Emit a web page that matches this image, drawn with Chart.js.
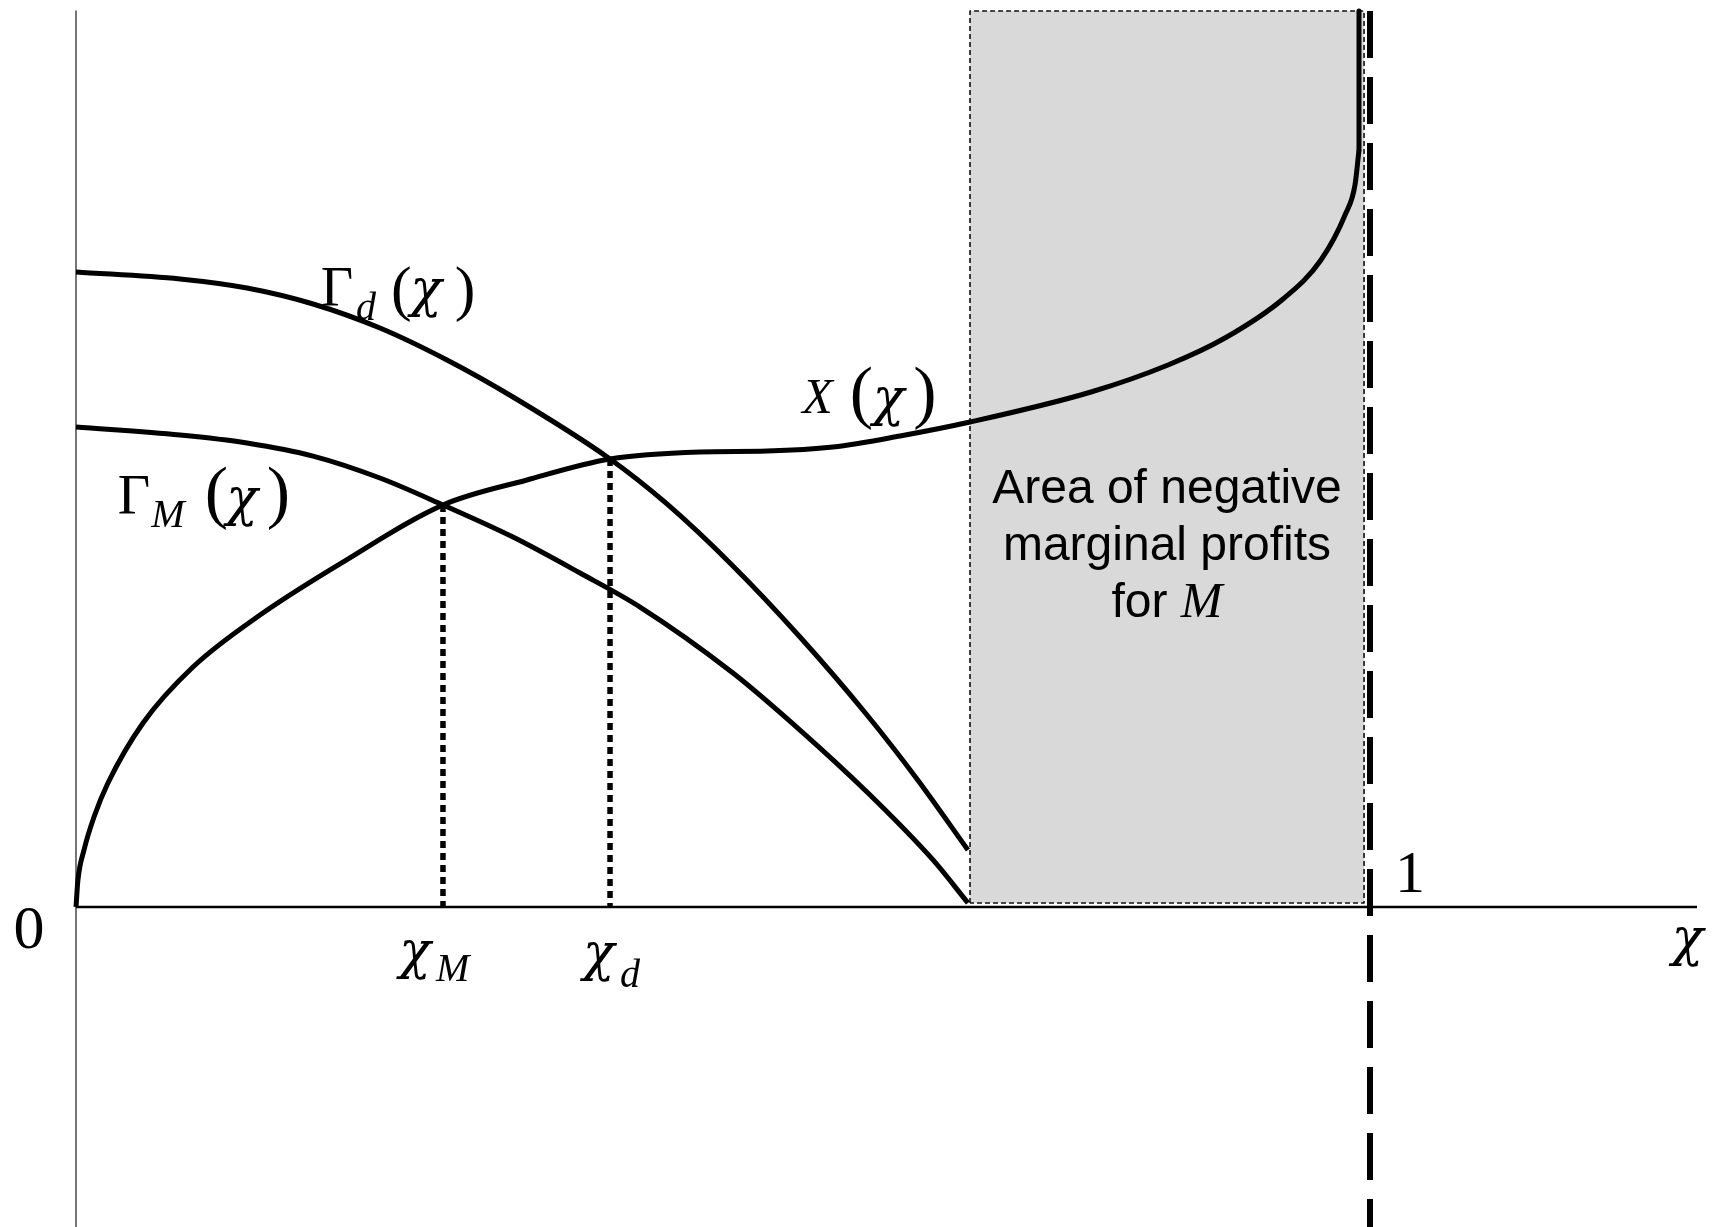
<!DOCTYPE html>
<html>
<head>
<meta charset="utf-8">
<script src="https://cdn.jsdelivr.net/npm/chart.js"></script>
<style>
html,body{margin:0;padding:0;background:#ffffff;overflow:hidden;}
#wrap{width:1727px;height:1227px;position:relative;}
</style>
</head>
<body>
<div id="wrap"><canvas id="c" width="1727" height="1227"></canvas></div>
<script>
// ---------- data (x: chi in [0,1], y: arbitrary value units) ----------
const xCurveX = [0, 0.0015, 0.0062, 0.0139, 0.0247, 0.0518, 0.0904, 0.1422, 0.2063, 0.2836, 0.3485, 0.4127, 0.4822, 0.5340, 0.5850, 0.6368, 0.6909, 0.7844, 0.8439, 0.8879, 0.9328, 0.9621, 0.9807, 0.9884, 0.9915];
const xCurveY = [0, 0.0301, 0.0636, 0.1004, 0.1384, 0.2054, 0.2679, 0.3259, 0.3850, 0.4487, 0.4766, 0.5000, 0.5078, 0.5089, 0.5134, 0.5257, 0.5413, 0.5748, 0.6049, 0.6350, 0.6786, 0.7221, 0.7723, 0.8058, 0.8449];
// X(chi) rises vertically at its right end up to the top of the figure
const xVerticalY = [0.8449, 1.0];

const gammaDX = [0, 0.0804, 0.1321, 0.1832, 0.2349, 0.2867, 0.3377, 0.4127, 0.4567, 0.5077, 0.5595, 0.6113, 0.6499, 0.6893];
const gammaDY = [0.7087, 0.7009, 0.6908, 0.6730, 0.6462, 0.6105, 0.5692, 0.5000, 0.4498, 0.3806, 0.3013, 0.2143, 0.1429, 0.0636];

const gammaMX = [0, 0.0804, 0.1321, 0.1832, 0.2349, 0.2836, 0.3377, 0.3895, 0.4359, 0.5077, 0.5595, 0.6113, 0.6623, 0.6893];
const gammaMY = [0.5357, 0.5268, 0.5179, 0.5033, 0.4788, 0.4487, 0.4129, 0.3728, 0.3348, 0.2612, 0.1975, 0.1283, 0.0525, 0.0045];

// equilibrium cut-offs (chi value, height of the crossing)
const chiM = [0.2836, 0.4487];
const chiD = [0.4127, 0.5000];

// area of negative marginal profits: [xStart, xEnd], [yBottom, yTop]
const areaX = [0.6909, 0.9954];
const areaY = [0.0045, 1.0];

// axis extents
const axisXEnd = 1.2527;
const axisYTop = 1.0;
const upperBound = 1.0;

// view window
const viewX = [-0.05873, 1.27589];
const viewY = [-0.35714, 1.01228];

// text labels (centre x, baseline y in data units)
const SERIF = '"Liberation Serif", "Times New Roman", serif';
const GREEK = '"DejaVu Serif", "Liberation Serif", serif';
const SANS = '"Liberation Sans", Arial, sans-serif';
const CHI = '\u03C7';
const labels = [
  {t:'0', x:-0.0363, y:-0.0458, f:'62px ' + SERIF},
  {t:'1', x:1.0309, y:0.0171, f:'60px ' + SERIF},
  {t:CHI, x:1.2454, y:-0.0536, f:'italic 52px ' + GREEK},
  // chi_M
  {t:CHI, x:0.2620, y:-0.0681, f:'italic 52px ' + GREEK},
  {t:'M', x:0.2910, y:-0.0826, f:'italic 40px ' + SERIF},
  // chi_d
  {t:CHI, x:0.4039, y:-0.0703, f:'italic 52px ' + GREEK},
  {t:'d', x:0.4281, y:-0.0893, f:'italic 40px ' + SERIF},
  // Gamma_d(chi)
  {t:'\u0393', x:0.2017, y:0.6708, f:'56px ' + SERIF},
  {t:'d', x:0.2241, y:0.6551, f:'italic 40px ' + SERIF},
  {t:'(', x:0.2515, y:0.6674, f:'62px ' + SERIF},
  {t:CHI, x:0.2705, y:0.6708, f:'italic 52px ' + GREEK},
  {t:')', x:0.3006, y:0.6674, f:'62px ' + SERIF},
  // Gamma_M(chi)
  {t:'\u0393', x:0.0448, y:0.4386, f:'56px ' + SERIF},
  {t:'M', x:0.0711, y:0.4241, f:'italic 40px ' + SERIF},
  {t:'(', x:0.1086, y:0.4375, f:'70px ' + SERIF},
  {t:CHI, x:0.1283, y:0.4375, f:'italic 52px ' + GREEK},
  {t:')', x:0.1565, y:0.4375, f:'70px ' + SERIF},
  // X(chi)
  {t:'X', x:0.5730, y:0.5513, f:'italic 50px ' + SERIF},
  {t:'(', x:0.6070, y:0.5491, f:'70px ' + SERIF},
  {t:CHI, x:0.6279, y:0.5491, f:'italic 52px ' + GREEK},
  {t:')', x:0.6561, y:0.5491, f:'70px ' + SERIF}
];
const boxText = {cx:0.8431, lines:[
  {y:0.4509, parts:[{t:'Area of negative', f:'48px ' + SANS}]},
  {y:0.3873, parts:[{t:'marginal profits', f:'48px ' + SANS}]},
  {y:0.3237, parts:[{t:'for ', f:'48px ' + SANS}, {t:'M', f:'italic 50px ' + SERIF}]}
]};

// ---------- build datasets ----------
const pts = (xs, ys) => xs.map((v, i) => ({x: v, y: ys[i]}));

const labelPlugin = {
  id: 'labels',
  afterDatasetsDraw(chart) {
    const ctx = chart.ctx, sx = chart.scales.x, sy = chart.scales.y;
    ctx.save();
    ctx.fillStyle = '#000';
    ctx.textBaseline = 'alphabetic';
    ctx.textAlign = 'center';
    labels.forEach(l => {
      ctx.font = l.f;
      ctx.fillText(l.t, sx.getPixelForValue(l.x), sy.getPixelForValue(l.y));
    });
    ctx.textAlign = 'left';
    const cx = sx.getPixelForValue(boxText.cx);
    boxText.lines.forEach(line => {
      let w = 0;
      line.parts.forEach(p => { ctx.font = p.f; w += ctx.measureText(p.t).width; });
      let x = cx - w / 2;
      const y = sy.getPixelForValue(line.y);
      line.parts.forEach(p => { ctx.font = p.f; ctx.fillText(p.t, x, y); x += ctx.measureText(p.t).width; });
    });
    ctx.restore();
  }
};

const base = {showLine: true, pointRadius: 0, pointHoverRadius: 0, fill: false, borderCapStyle: 'butt', borderJoinStyle: 'round', tension: 0};
const curve = {cubicInterpolationMode: 'monotone', borderColor: '#000', borderWidth: 5, order: 2};
const lastX = xCurveX[xCurveX.length - 1];

new Chart(document.getElementById('c'), {
  type: 'scatter',
  data: {
    datasets: [
      Object.assign({}, base, {label:'area', data: pts(areaX, [areaY[1], areaY[1]]), borderWidth: 0,
        borderColor: 'rgba(0,0,0,0)', backgroundColor: '#d9d9d9', fill: {value: areaY[0]}, order: 20}),
      Object.assign({}, base, {label:'areaBorder', data: pts([areaX[0], areaX[0], areaX[1], areaX[1], areaX[0]], [areaY[0], areaY[1], areaY[1], areaY[0], areaY[0]]),
        borderColor: '#111', borderWidth: 1.6, borderDash: [5, 3], order: 15}),
      Object.assign({}, base, {label:'yAxis', data: pts([0, 0], [axisYTop, viewY[0]]), borderColor: '#555', borderWidth: 1.6, order: 12}),
      Object.assign({}, base, {label:'xAxis', data: pts([0, axisXEnd], [0, 0]), borderColor: '#000', borderWidth: 2.6, order: 11}),
      Object.assign({}, base, {label:'chiMline', data: pts([chiM[0], chiM[0]], [chiM[1], 0]), borderColor: '#000', borderWidth: 5.5, borderDash: [7, 5], order: 8}),
      Object.assign({}, base, {label:'chiDline', data: pts([chiD[0], chiD[0]], [chiD[1], 0]), borderColor: '#000', borderWidth: 5.5, borderDash: [7, 5], order: 8}),
      Object.assign({}, base, {label:'bound', data: pts([upperBound, upperBound], [axisYTop, viewY[0]]), borderColor: '#000', borderWidth: 6, borderDash: [47, 19], order: 5}),
      Object.assign({}, base, curve, {label:'Gamma_d', data: pts(gammaDX, gammaDY)}),
      Object.assign({}, base, curve, {label:'Gamma_M', data: pts(gammaMX, gammaMY)}),
      Object.assign({}, base, curve, {label:'X', data: pts(xCurveX, xCurveY), order: 1}),
      Object.assign({}, base, {label:'X top', data: pts([lastX, lastX], xVerticalY), borderColor: '#000', borderWidth: 5, borderCapStyle: 'round', order: 1})
    ]
  },
  options: {
    responsive: false,
    devicePixelRatio: 1,
    animation: false,
    events: [],
    layout: {padding: 0},
    plugins: {legend: {display: false}, tooltip: {enabled: false}, title: {display: false}},
    scales: {
      x: {type: 'linear', min: viewX[0], max: viewX[1], display: false},
      y: {type: 'linear', min: viewY[0], max: viewY[1], display: false}
    }
  },
  plugins: [labelPlugin]
});
</script>
</body>
</html>
